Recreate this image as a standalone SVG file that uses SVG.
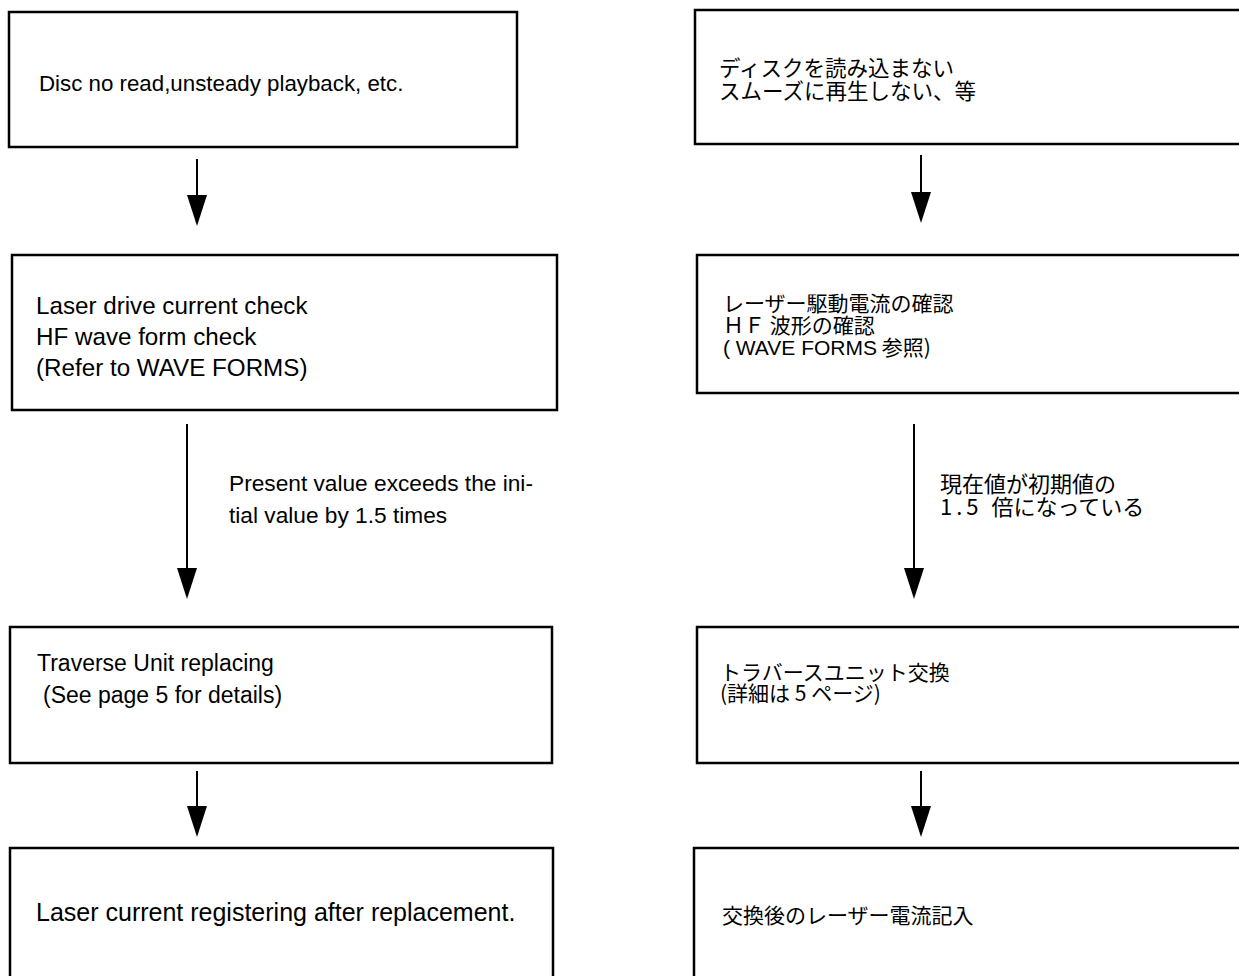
<svg xmlns="http://www.w3.org/2000/svg" width="1239" height="976" viewBox="0 0 1239 976">
<style>
.box{fill:#fff;stroke:#000;stroke-width:2.5}
.en{font-family:"Liberation Sans",Arial,sans-serif;font-size:23px;fill:#000}
.jp{font-family:"Noto Sans CJK JP","Noto Sans CJK SC",sans-serif;font-size:21px;fill:#000}
.lat{font-family:"Liberation Sans",Arial,sans-serif}
.con{stroke:#000;stroke-width:2;fill:none}
.head{fill:#000}
</style>
<rect width="1239" height="976" fill="#fff"/>
<g id="connectors">
<line class="con" x1="197" y1="159" x2="197" y2="195"/><polygon class="head" points="187,195 207,195 197,226"/>
<line class="con" x1="187" y1="424" x2="187" y2="568"/><polygon class="head" points="177,568 197,568 187,599"/>
<line class="con" x1="197" y1="771" x2="197" y2="806"/><polygon class="head" points="187,806 207,806 197,837"/>
<line class="con" x1="921" y1="155" x2="921" y2="192"/><polygon class="head" points="911,192 931,192 921,223"/>
<line class="con" x1="914" y1="424" x2="914" y2="568"/><polygon class="head" points="904,568 924,568 914,599"/>
<line class="con" x1="921" y1="771" x2="921" y2="806"/><polygon class="head" points="911,806 931,806 921,837"/>
<text class="en" x="229" y="491" style="font-size:22.7px">Present value exceeds the ini-</text>
<text class="en" x="229" y="523" style="font-size:22.7px">tial value by 1.5 times</text>
<text class="jp" x="940" y="492" style="font-size:22px">現在値が初期値の</text>
<text class="jp" x="940" y="515" style="font-size:22px"><tspan style="letter-spacing:4px">1.5 </tspan>倍になっている</text>
</g>
<g id="nodeL1"><rect class="box" x="9" y="12" width="508" height="135"/><text class="en" x="39" y="91" style="font-size:22.3px">Disc no read,unsteady playback, etc.</text></g>
<g id="nodeL2"><rect class="box" x="12" y="255" width="545" height="155"/>
<text class="en" x="36" y="314" style="font-size:24.2px">Laser drive current check</text>
<text class="en" x="36" y="345" style="font-size:24.2px">HF wave form check</text>
<text class="en" x="36" y="376" style="font-size:24.2px">(Refer to WAVE FORMS)</text></g>
<g id="nodeL3"><rect class="box" x="10" y="627" width="542" height="136"/>
<text class="en" x="37" y="671">Traverse Unit replacing</text>
<text class="en" x="43" y="703">(See page 5 for details)</text></g>
<g id="nodeL4"><rect class="box" x="10" y="848" width="543" height="150"/>
<text class="en" x="36" y="921" style="font-size:25px">Laser current registering after replacement.</text></g>
<g id="nodeR1"><rect class="box" x="695" y="10" width="570" height="134"/>
<text class="jp" x="719" y="76" style="font-size:21.5px">ディスクを読み込まない</text>
<text class="jp" x="719" y="99" style="font-size:21.5px">スムーズに再生しない、等</text></g>
<g id="nodeR2"><rect class="box" x="697" y="255" width="570" height="138"/>
<text class="jp" x="723" y="311">レーザー駆動電流の確認</text>
<text class="jp" x="723" y="333">ＨＦ 波形の確認</text>
<text class="jp" x="723" y="355"><tspan class="lat">( WAVE FORMS</tspan> 参照)</text></g>
<g id="nodeR3"><rect class="box" x="697" y="627" width="570" height="136"/>
<text class="jp" x="720" y="680">トラバースユニット交換</text>
<text class="jp" x="720" y="701">(詳細は 5 ページ)</text></g>
<g id="nodeR4"><rect class="box" x="694" y="848" width="570" height="150"/>
<text class="jp" x="722" y="923">交換後のレーザー電流記入</text></g>
</svg>
